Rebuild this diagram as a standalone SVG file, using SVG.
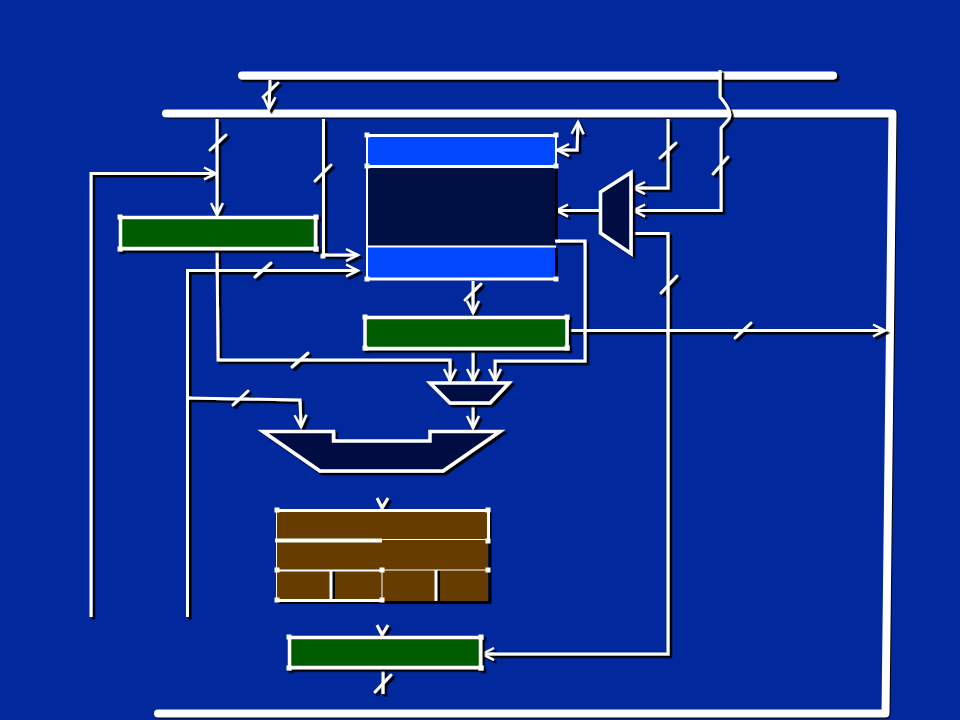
<svg xmlns="http://www.w3.org/2000/svg" xmlns:xlink="http://www.w3.org/1999/xlink" width="960" height="720" viewBox="0 0 960 720">
<style>
.sh{filter:url(#shadow)}
.w{fill:none;stroke:#fff;stroke-width:3;stroke-linejoin:miter}
.bus{fill:none;stroke:#fff;stroke-width:8;stroke-linecap:round;stroke-linejoin:round}
.tick{fill:none;stroke:#fff;stroke-width:3;stroke-linecap:round}
.a{marker-end:url(#arrow)}
.ab{marker-start:url(#arrowS);marker-end:url(#arrow)}
.green{fill:#005c00;stroke:#fff;stroke-width:3.500}
.navy{fill:#000f42;stroke:#fff;stroke-width:3.500;stroke-linejoin:miter}
.blue{fill:#0047ff}
.brown{fill:#663c00}
.nub{fill:#fff}
.l{stroke:#fff;fill:none}
.k{stroke:#000;fill:none;stroke-width:3}
</style>
<defs>
<filter id="shadow" x="0" y="0" width="960" height="720" filterUnits="userSpaceOnUse">
<feDropShadow dx="2.500" dy="2.500" stdDeviation="0.3" flood-color="#000"/>
</filter>
<marker id="arrow" markerUnits="userSpaceOnUse" markerWidth="18" markerHeight="18" refX="12" refY="8" orient="auto" overflow="visible">
<path d="M0 2 L12 8 L0 14" fill="none" stroke="#fff" stroke-width="2.400"/>
</marker>
<marker id="arrowS" markerUnits="userSpaceOnUse" markerWidth="18" markerHeight="18" refX="12" refY="8" orient="auto-start-reverse" overflow="visible">
<path d="M0 2 L12 8 L0 14" fill="none" stroke="#fff" stroke-width="2.400"/>
</marker>
<rect id="n" class="nub" x="-2.500" y="-2.500" width="5" height="5"/>
</defs>
<rect width="960" height="720" fill="#01289d"/>

<g id="connectors">
<path id="bus-top" class="bus sh" d="M242 75.500H833"/>
<path id="bus-main" class="bus" style="filter:drop-shadow(1.5px 1.5px 0 #000)" d="M166 113.500H892.500L885.500 713.500H158"/>
<g class="sh">
<path class="w a" d="M270 80L269 109"/>
<path class="tick" d="M263 97L278 83"/>
<path class="w a" d="M217 119V215"/>
<path class="tick" d="M210 150L226 135"/>
<path class="w a" d="M91 617V173.500H216"/>
<path class="w a" d="M323.500 119V255H358"/>
<path class="tick" d="M315 181L331 165"/>
<path class="w a" d="M187.500 617V270.500H358"/>
<path class="tick" d="M255 277L271 263"/>
<path class="w a" d="M217 248L218 360H450V381"/>
<path class="tick" d="M292 367L308 353"/>
<path class="w a" d="M187 398L300 400L301 427"/>
<path class="tick" d="M233 405L248 391"/>
<path class="w a" d="M473 281V313"/>
<path class="tick" d="M465 300L481 284"/>
<path class="w a" d="M473 350V381"/>
<path class="w a" d="M555 241H585V361H495V381"/>
<path class="w a" d="M569 330.500H885"/>
<path class="tick" d="M735 338L751 323"/>
<path class="w a" d="M473 404V428"/>
<path class="w a" d="M600 210.500H556"/>
<path class="w a" d="M668 119V188H633"/>
<path class="tick" d="M660 158L676 143"/>
<path class="w a" d="M720 70V97Q734 113 728 120Q722 127 721 128V210.500H633"/>
<path class="tick" d="M713 174L728 157"/>
<path class="w a" d="M633 233.500H668V654H482"/>
<path class="tick" d="M661 293L677 276"/>
<path class="w ab" d="M557 150H577L578 122"/>
<path class="w" d="M377 498L382 508L388 498"/>
<path class="w" d="M377 625L382 635L388 625"/>
<path class="w" d="M383 668V694"/>
<path class="tick" d="M375 692L391 675"/>
</g>
<use xlink:href="#n" x="323" y="256"/>
</g>

<g id="node-regfile">
<rect x="367" y="135" width="189" height="144" fill="#000f42"/>
<rect class="blue" x="367" y="135" width="189" height="31"/>
<rect class="blue" x="367" y="247" width="189" height="32"/>
<path class="k" d="M556.500 168V240M556.500 248V278"/>
<path class="l" stroke-width="3" d="M367 135.500H556M366 166.500H557M366 279H556M555 241H560"/>
<path class="l" stroke-width="2" d="M367 135V279M556 135V166M367 246.500H556"/>
<use xlink:href="#n" x="367" y="135"/><use xlink:href="#n" x="556" y="135"/><use xlink:href="#n" x="367" y="166"/><use xlink:href="#n" x="556" y="166"/><use xlink:href="#n" x="367" y="279"/><use xlink:href="#n" x="556" y="279"/>
</g>

<g id="node-pc" class="sh">
<rect class="green" x="120.500" y="217.500" width="195" height="31"/>
<use xlink:href="#n" x="120" y="217"/><use xlink:href="#n" x="316" y="217"/><use xlink:href="#n" x="120" y="249"/><use xlink:href="#n" x="316" y="249"/>
</g>

<g id="node-a" class="sh">
<rect class="green" x="365" y="317.500" width="202" height="31"/>
<use xlink:href="#n" x="365" y="317"/><use xlink:href="#n" x="567" y="317"/><use xlink:href="#n" x="365" y="348"/><use xlink:href="#n" x="567" y="348"/>
</g>

<g id="node-mux-right" class="sh">
<path class="navy" d="M600.500 192L631 172.500V253.500L600.500 233Z"/>
</g>

<g id="node-mux-small" class="sh">
<path class="navy" d="M430 383H509L490 403H450Z"/>
</g>

<g id="node-alu" class="sh">
<path class="navy" d="M263 431.500H333.500V441H430V431.500H500L443 471H320Z"/>
</g>

<g id="node-control">
<rect class="brown" x="277" y="510" width="211" height="91"/>
<path class="k" d="M333.500 571V603M438.500 571V603M278 602.500H491M490 512V602"/>
<path class="l" stroke-width="3" d="M277 510.500H488M488.500 510V540M277 600.500H382M331 570V601M436 570V601"/>
<path class="l" stroke-width="4" d="M275 540.500H382"/>
<path class="l" stroke-width="1" d="M382 539.500H489M276.500 510V600M382 570V601"/>
<path class="l" stroke-width="2" d="M276 570.500H382"/>
<path class="l" stroke-width="1" d="M382 570H488"/>
<use xlink:href="#n" x="277" y="510"/><use xlink:href="#n" x="488" y="510"/><use xlink:href="#n" x="488" y="541"/><use xlink:href="#n" x="277" y="570"/><use xlink:href="#n" x="488" y="570"/><use xlink:href="#n" x="277" y="600"/><use xlink:href="#n" x="382" y="600"/><use xlink:href="#n" x="382" y="570"/>
</g>

<g id="node-ir" class="sh">
<rect class="green" x="289.500" y="637.500" width="191" height="30"/>
<use xlink:href="#n" x="289" y="637"/><use xlink:href="#n" x="481" y="637"/><use xlink:href="#n" x="289" y="668"/><use xlink:href="#n" x="481" y="668"/>
</g>
</svg>
